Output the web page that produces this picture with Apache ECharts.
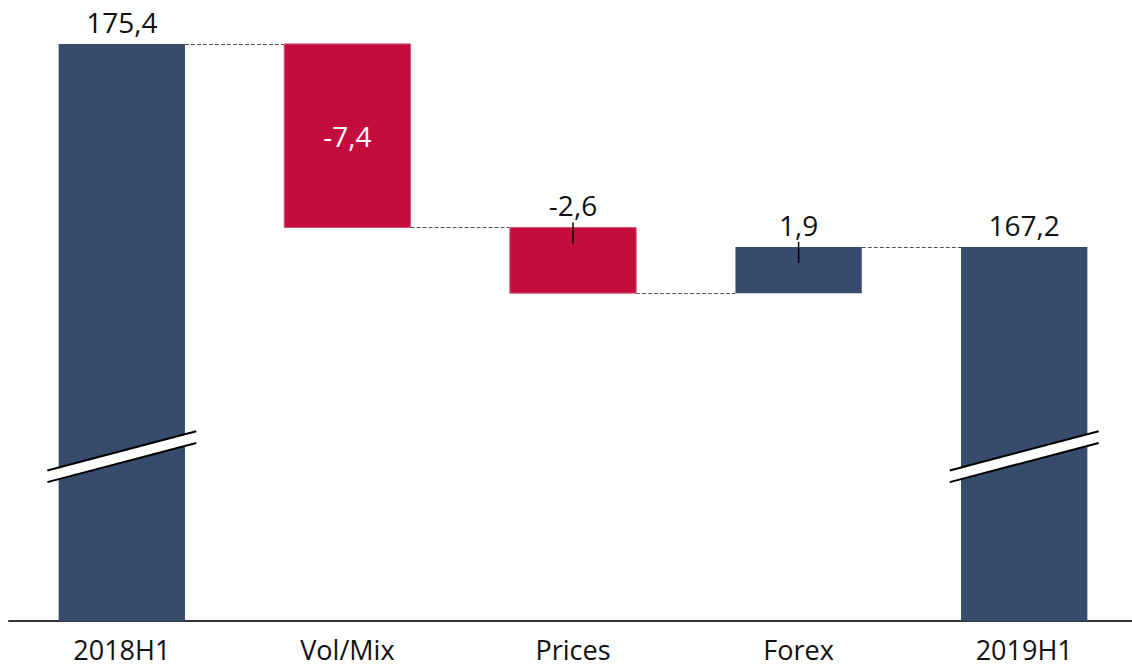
<!DOCTYPE html>
<html>
<head>
<meta charset="utf-8">
<script src="https://cdn.jsdelivr.net/npm/echarts@6/dist/echarts.min.js"></script>
<style>
  html, body { margin: 0; padding: 0; background: #fff; }
  #chart { width: 1132px; height: 668px; }
</style>
</head>
<body>
<div id="chart"></div>
<script>
// data
var categories = ['2018H1', 'Vol/Mix', 'Prices', 'Forex', '2019H1'];
var values = [175.4, -7.38, -2.64, 1.86, 167.24];
var isTotal = [true, false, false, false, true];
var breakValue = 158.8; // where the scale break marks sit on the total bars
var axisMin = 152.2;
var axisMax = 176.2;

var NAVY = '#374c6c';
var RED = '#c20d3d';
var FONT = '"Open Sans", "Noto Sans", sans-serif';

function fmt(v) {
  return v.toFixed(1).replace('.', ',');
}

// build waterfall rows: [index, low, high, level, value, total]
var rows = [];
var running = 0;
for (var i = 0; i < values.length; i++) {
  var low, high;
  if (isTotal[i]) {
    low = axisMin;
    high = values[i];
    running = values[i];
  } else {
    var start = running;
    running = running + values[i];
    low = Math.min(start, running);
    high = Math.max(start, running);
  }
  rows.push([i, low, high, running, values[i], isTotal[i] ? 1 : 0]);
}

var myChart = echarts.init(document.getElementById('chart'), null, { renderer: 'svg' });

function renderItem(params, api) {
  var idx = api.value(0);
  var low = api.value(1);
  var high = api.value(2);
  var level = api.value(3);
  var v = api.value(4);
  var total = api.value(5) === 1;
  var band = api.size([1, 0])[0];
  var bw = band * 0.56;
  var pTop = api.coord([idx, high]);
  var pBot = api.coord([idx, low]);
  var cx = pTop[0];
  var x0 = cx - bw / 2;
  var h = pBot[1] - pTop[1];
  var color = (total || v > 0) ? NAVY : RED;
  var children = [];

  children.push({
    type: 'rect',
    shape: { x: x0, y: pTop[1], width: bw, height: h },
    style: { fill: color, stroke: color === RED ? '#d6597b' : null, lineWidth: 1 }
  });

  // connector to next bar
  if (idx < categories.length - 1) {
    var ly = Math.round(api.coord([idx, level])[1]) + 0.5;
    children.push({
      type: 'line',
      shape: { x1: x0 + bw, y1: ly, x2: x0 + band, y2: ly },
      style: { stroke: '#555', lineWidth: 1, lineDash: [4, 2] }
    });
  }

  // scale break marks on total bars
  if (total) {
    var yc = api.coord([idx, breakValue])[1];
    var hl = band * 0.33;
    var dy = 19.6;
    var gap = 11.7;
    var xl = cx - hl, xr = cx + hl;
    var yl = yc - 6 + dy, yr = yc - 6 - dy;
    children.push({
      type: 'polygon',
      shape: { points: [[xl, yl], [xr, yr], [xr, yr + gap], [xl, yl + gap]] },
      style: { fill: '#fff' }
    });
    children.push({
      type: 'line',
      shape: { x1: xl, y1: yl, x2: xr, y2: yr },
      style: { stroke: '#000', lineWidth: 2 }
    });
    children.push({
      type: 'line',
      shape: { x1: xl, y1: yl + gap, x2: xr, y2: yr + gap },
      style: { stroke: '#000', lineWidth: 2 }
    });
  }

  // value labels
  var inside = !total && h > 100;
  if (inside) {
    children.push({
      type: 'text',
      style: {
        text: fmt(v), x: cx, y: pTop[1] + h / 2,
        fill: '#fff', fontSize: 28, fontFamily: FONT,
        align: 'center', verticalAlign: 'middle'
      }
    });
  } else {
    children.push({
      type: 'text',
      style: {
        text: fmt(v), x: cx, y: pTop[1] - 22,
        fill: '#111', fontSize: 28, fontFamily: FONT,
        align: 'center', verticalAlign: 'middle'
      }
    });
    if (!total) {
      children.push({
        type: 'line',
        shape: { x1: cx, y1: pTop[1] - 5, x2: cx, y2: pTop[1] + 16 },
        style: { stroke: '#000', lineWidth: 1.5 }
      });
    }
  }

  return { type: 'group', children: children };
}

var option = {
  backgroundColor: '#fff',
  animation: false,
  grid: { left: 9, width: 1128, top: 24, bottom: 47, outerBoundsMode: 'none' },
  xAxis: {
    type: 'category',
    data: categories,
    boundaryGap: true,
    axisLine: { show: true, lineStyle: { color: '#333', width: 2 } },
    axisTick: { show: false },
    axisLabel: { color: '#111', fontSize: 27, lineHeight: 27, fontFamily: FONT, margin: 15 },
    splitLine: { show: false }
  },
  yAxis: {
    type: 'value',
    min: axisMin,
    max: axisMax,
    show: false,
    splitLine: { show: false }
  },
  series: [
    {
      type: 'custom',
      renderItem: renderItem,
      encode: { x: 0, y: [1, 2] },
      data: rows,
      z: 1
    }
  ]
};

option && myChart.setOption(option);
</script>
</body>
</html>
